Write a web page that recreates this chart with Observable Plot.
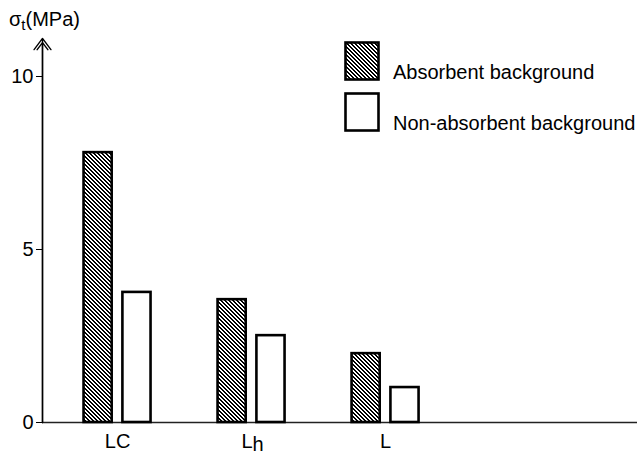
<!DOCTYPE html>
<html><head><meta charset="utf-8">
<script src="https://cdn.jsdelivr.net/npm/d3@7"></script>
<script src="https://cdn.jsdelivr.net/npm/@observablehq/plot@0.6"></script>
<style>
body{margin:0;background:#fff;font-family:"Liberation Sans",Arial,Helvetica,sans-serif;color:#000;}
#wrap{position:relative;width:637px;height:455px;overflow:hidden;}
#wrap svg{position:absolute;left:0;top:0;}
.txt{position:absolute;font-size:20px;line-height:24px;white-space:nowrap;}
.box{position:absolute;}
</style></head><body><div id="wrap"></div>
<script>
// ---- data ----
const categories = ["LC", "Lh", "L"];
const catMain = ["LC", "L", "L"];
const catSub = ["", "h", ""];
const absorbent = [7.8, 3.55, 1.99];
const nonAbsorbent = [3.76, 2.51, 1.01];
const yTicks = [0, 5, 10];
const seriesNames = ["Absorbent background", "Non-absorbent background"];
const yLabel = "σ";
const yLabelSub = "t";
const yUnit = "(MPa)";

// ---- build ----
const rows = [];
categories.forEach((c, i) => {
  rows.push({i, cat: c, series: seriesNames[0], value: absorbent[i]});
  rows.push({i, cat: c, series: seriesNames[1], value: nonAbsorbent[i]});
});
const absRows = rows.filter(d => d.series === seriesNames[0]);
const nonRows = rows.filter(d => d.series === seriesNames[1]);
const labelRows = categories.map((c, i) => ({i, main: catMain[i], sub: catSub[i]}));

const X0 = -0.56, X1 = 3.88;
const BW = 0.21, GAP = 0.04;

const hasAxisMark = typeof Plot.axisY === "function";

const svg = Plot.plot({
  width: 637,
  height: 455,
  marginLeft: 42, marginRight: 0, marginTop: 76, marginBottom: 33,
  style: {fontFamily: "'Liberation Sans', Arial, Helvetica, sans-serif", fontSize: "20px", color: "#000", background: "white", overflow: "visible"},
  x: {type: "linear", domain: [X0, X1], range: [42, 637], axis: null},
  y: hasAxisMark ? {domain: [0, 10], range: [422, 76], axis: null}
                 : {domain: [0, 10], range: [422, 76], ticks: yTicks, tickSize: 6, tickPadding: 3, label: null},
  marks: [
    Plot.ruleY([0], {stroke: "#222", strokeWidth: 1.6}),
    Plot.rect(absRows, {x1: d => d.i - GAP - BW, x2: d => d.i - GAP, y1: 0, y2: "value", fill: "url(#hatch)", stroke: "black", strokeWidth: 2.6}),
    Plot.rect(nonRows, {x1: d => d.i + GAP, x2: d => d.i + GAP + BW, y1: 0, y2: "value", fill: "white", stroke: "black", strokeWidth: 2.6}),
    Plot.arrow([0], {x1: X0, x2: X0, y1: 0, y2: 11.1, stroke: "black", strokeWidth: 1.4, headLength: 15, headAngle: 74}),
    Plot.arrow([0], {x1: X0, x2: X0, y1: 0, y2: 10.98, stroke: "black", strokeWidth: 1.4, headLength: 9.5, headAngle: 74}),
    ...(hasAxisMark ? [Plot.axisY({ticks: yTicks, tickSize: 6, tickPadding: 3, label: null, fontSize: 20})] : []),
    Plot.text(labelRows.filter(d => !d.sub), {x: "i", y: 0, text: "main", dy: 19, fontSize: 20}),
    Plot.text(labelRows.filter(d => d.sub), {x: "i", y: 0, text: "main", dy: 19, dx: 1, textAnchor: "end", fontSize: 20}),
    Plot.text(labelRows.filter(d => d.sub), {x: "i", y: 0, text: "sub", dy: 22, dx: 1, textAnchor: "start", fontSize: 20})
  ]
});

// crisp pixel-aligned diagonal hatch "\\\\"
function addHatch(defsSel, id) {
  const p = defsSel.append("pattern").attr("id", id).attr("patternUnits", "userSpaceOnUse")
    .attr("width", 4).attr("height", 4);
  p.append("rect").attr("width", 4).attr("height", 4).attr("fill", "white");
  p.append("path").attr("d", "M0,0h2v1h-2zM1,1h2v1h-2zM2,2h2v1h-2zM3,3h1v1h-1zM0,3h1v1h-1z")
    .attr("fill", "black").attr("shape-rendering", "crispEdges");
}
const defs = d3.select(svg).insert("defs", ":first-child");
addHatch(defs, "hatch");

const wrap = document.getElementById("wrap");
wrap.appendChild(svg);

// title
const t = document.createElement("div");
t.className = "txt";
t.style.left = "9px"; t.style.top = "7px";
t.innerHTML = `${yLabel}<span style="font-size:15px;position:relative;top:4px">${yLabelSub}</span>${yUnit}`;
wrap.appendChild(t);

// legend
seriesNames.forEach((name, k) => {
  const top = 42 + k * 51;
  const b = d3.create("svg").attr("class", "box").attr("width", 36).attr("height", 40)
    .style("left", "344px").style("top", (top - 1) + "px");
  if (k === 0) addHatch(b.append("defs"), "lhatch");
  b.append("rect").attr("x", 1.5).attr("y", 1.5).attr("width", 33).attr("height", 37)
    .attr("fill", k === 0 ? "url(#lhatch)" : "white").attr("stroke", "black").attr("stroke-width", 2.6);
  wrap.appendChild(b.node());
  const lt = document.createElement("div");
  lt.className = "txt";
  lt.style.left = "393px"; lt.style.top = (top + 18) + "px";
  lt.textContent = name;
  wrap.appendChild(lt);
});
</script>
</body></html>
